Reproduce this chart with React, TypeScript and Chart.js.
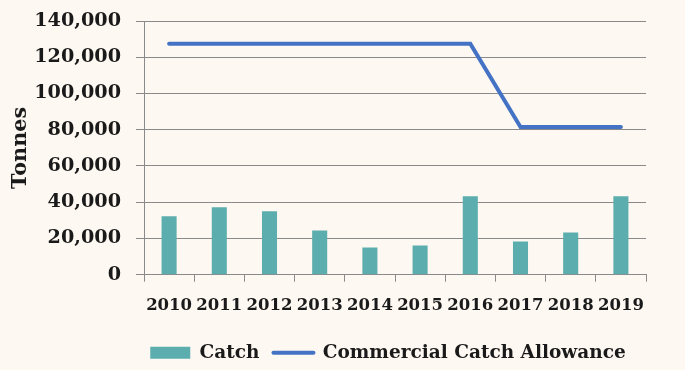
import React, { useEffect, useRef } from "react";
import { Chart, registerables } from "chart.js";

Chart.register(...registerables);

const years = ["2010", "2011", "2012", "2013", "2014", "2015", "2016", "2017", "2018", "2019"];
const catchValues = [32200, 37200, 35000, 24400, 15000, 16100, 43300, 18300, 23300, 43300];
const allowanceValues = [127500, 127500, 127500, 127500, 127500, 127500, 127500, 81500, 81500, 81500];

const BG = "#FEF8F2";
const TEAL = "#5BAEAD";
const BLUE = "#4472C4";
const GRID = "#8A8A8A";
const TEXT = "#1a1a1a";
const FONT = "'DejaVu Serif', serif";

export default function App() {
  const ref = useRef<HTMLCanvasElement | null>(null);

  useEffect(() => {
    if (!ref.current) return;
    const chart = new Chart(ref.current, {
      type: "bar",
      data: {
        labels: years,
        datasets: [
          {
            type: "bar",
            label: "Catch",
            data: catchValues,
            backgroundColor: TEAL,
            borderWidth: 0,
            barPercentage: 0.3,
            categoryPercentage: 1,
          },
          {
            type: "line",
            label: "Commercial Catch Allowance",
            data: allowanceValues,
            borderColor: BLUE,
            backgroundColor: BLUE,
            borderWidth: 4,
            borderCapStyle: "round",
            pointRadius: 0,
            tension: 0,
            fill: false,
          },
        ],
      },
      options: {
        animation: false,
        responsive: false,
        maintainAspectRatio: false,
        layout: { padding: { left: 8, right: 39, top: 1, bottom: -2 } },
        plugins: {
          tooltip: { enabled: false },
          legend: {
            position: "bottom",
            labels: {
              color: TEXT,
              font: { family: FONT, size: 18.5, weight: "bold" },
              usePointStyle: true,
              pointStyleWidth: 40,
              boxHeight: 12,
              padding: 14,
              generateLabels: (c: any) =>
                c.data.datasets.map((ds: any, i: number) => ({
                  text: ds.label,
                  datasetIndex: i,
                  fillStyle: i === 0 ? TEAL : BLUE,
                  strokeStyle: i === 0 ? TEAL : BLUE,
                  lineWidth: i === 0 ? 0 : 4,
                  lineCap: "round",
                  pointStyle: i === 0 ? "rect" : "line",
                  hidden: false,
                  fontColor: TEXT,
                })),
            },
          },
        },
        scales: {
          x: {
            offset: true,
            grid: {
              offset: true,
              drawOnChartArea: false,
              drawTicks: true,
              tickLength: 7,
              color: GRID,
            },
            border: { color: GRID, width: 1 },
            ticks: {
              color: TEXT,
              font: { family: FONT, size: 16.5, weight: "bold" },
              padding: 14,
              maxRotation: 0,
              autoSkip: false,
            },
          },
          y: {
            min: 0,
            max: 140000,
            afterFit: (s: any) => {
              s.width = 136;
              s.paddingTop = 21;
            },
            grid: { color: GRID, tickLength: 8, lineWidth: 1 },
            border: { color: GRID, width: 1 },
            ticks: {
              stepSize: 20000,
              color: TEXT,
              font: { family: FONT, size: 19.2, weight: "bold" },
              padding: 15,
              callback: (v: any) => Number(v).toLocaleString("en-US"),
            },
            title: {
              display: true,
              text: "Tonnes",
              color: TEXT,
              font: { family: FONT, size: 20.8, weight: "bold" },
              padding: { top: 0, bottom: 4 },
            },
          },
        },
      },
      plugins: [
        {
          id: "bg",
          beforeDraw: (c: any) => {
            const ctx = c.ctx;
            ctx.save();
            ctx.fillStyle = BG;
            ctx.fillRect(0, 0, c.width, c.height);
            ctx.restore();
          },
        },
        {
          id: "legendShift",
          afterLayout: (c: any) => {
            const l = c.legend;
            if (l) {
              l.left += 61;
              l.right += 61;
            }
          },
        },
      ],
    } as any);
    return () => chart.destroy();
  }, []);

  return (
    <div style={{ position: "absolute", left: 0, top: 0, width: 685, height: 370, background: BG }}>
      <canvas ref={ref} width={685} height={370} style={{ display: "block" }} />
    </div>
  );
}
